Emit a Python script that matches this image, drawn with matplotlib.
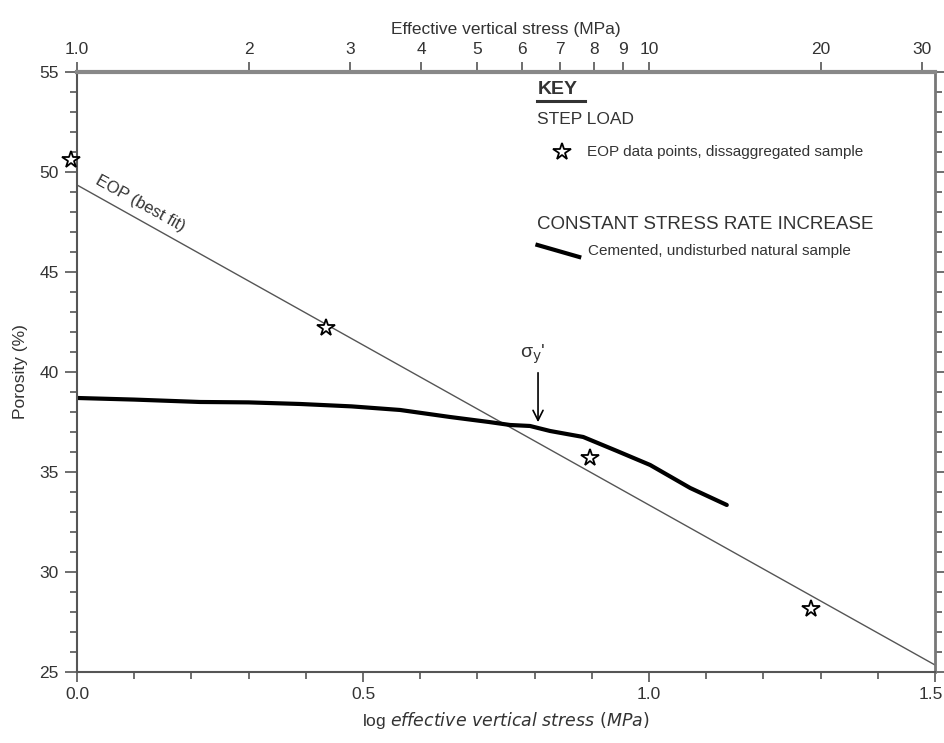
import matplotlib.pyplot as plt
import matplotlib.transforms as mtransforms
import numpy as np

plt.rcParams['font.family'] = ['Liberation Sans', 'DejaVu Sans']

# data
eop_x = [-0.01, 0.435, 0.897, 1.283]
eop_y = [50.6, 42.2, 35.7, 28.15]
fit_x = [0.0, 1.5]
fit_y = [49.35, 25.35]
csr_x = [0.0, 0.1, 0.215, 0.3, 0.39, 0.48, 0.565, 0.652, 0.72, 0.757, 0.792,
         0.827, 0.885, 0.944, 1.002, 1.072, 1.136]
csr_y = [38.7, 38.62, 38.5, 38.48, 38.4, 38.28, 38.1, 37.75, 37.5, 37.35, 37.3,
         37.05, 36.75, 36.05, 35.35, 34.2, 33.35]
sigma_x = 0.806
top_ticks = [1, 2, 3, 4, 5, 6, 7, 8, 9, 10, 20, 30]
top_labels = ['1.0', '2', '3', '4', '5', '6', '7', '8', '9', '10', '20', '30']

txt = '#333333'
fig = plt.figure(figsize=(9.45, 7.43), dpi=100)
ax = fig.add_axes([0.0815, 0.0956, 0.9079, 0.8075])

ax.plot(fit_x, fit_y, color='#555555', lw=1.0)
ax.plot(csr_x, csr_y, color='black', lw=3.0, solid_capstyle='round',
        solid_joinstyle='round')
ax.plot(eop_x, eop_y, ls='none', marker='*', ms=13, mfc='white',
        mec='black', mew=1.3, clip_on=False, zorder=5)

ax.annotate('', xy=(sigma_x, 37.35), xytext=(sigma_x, 40.1),
            arrowprops=dict(arrowstyle='->', color='black', lw=1.2,
                            mutation_scale=18))
ax.text(sigma_x - 0.01, 40.9, "σ$_\\mathrm{y}$'", ha='center', va='center',
        fontsize=14, color=txt)
ax.text(0.11, 48.4, 'EOP (best fit)', rotation=-29, ha='center', va='center',
        fontsize=12, color=txt, rotation_mode='anchor')

# key
ax.text(0.805, 54.1, 'KEY', fontsize=14, fontweight='bold', color=txt,
        ha='left', va='center')
ax.plot([0.805, 0.888], [53.55, 53.55], color=txt, lw=2.2, clip_on=False)
ax.text(0.805, 52.6, 'STEP LOAD', fontsize=12.5, color=txt, va='center')
ax.plot([0.848], [51.0], marker='*', ms=13, mfc='white', mec='black', mew=1.3)
ax.text(0.892, 51.0, 'EOP data points, dissaggregated sample', fontsize=11,
        color=txt, va='center')
ax.text(0.805, 47.35, 'CONSTANT STRESS RATE INCREASE', fontsize=13.5,
        color=txt, va='center')
ax.plot([0.805, 0.878], [46.35, 45.75], color='black', lw=3)
ax.text(0.893, 46.05, 'Cemented, undisturbed natural sample', fontsize=11,
        color=txt, va='center')

ax.set_xlim(0, 1.5)
ax.set_ylim(25, 55)
ax.set_xticks([0, 0.5, 1.0, 1.5])
ax.set_xticklabels(['0.0', '0.5', '1.0', '1.5'])
ax.set_xticks(np.arange(0, 1.51, 0.1), minor=True)
ax.set_yticks([25, 30, 35, 40, 45, 50, 55])
ax.set_yticks(np.arange(25, 56, 1), minor=True)
ax.tick_params(axis='both', which='major', length=7, width=1.2, colors='#555555',
               labelcolor=txt, labelsize=12.5)
ax.tick_params(axis='both', which='minor', length=5, width=1.2, colors='#555555')
ax.tick_params(axis='y', which='both', right=True)
ax.tick_params(axis='y', which='major', length=9, pad=4)
for s in ['left', 'bottom']:
    ax.spines[s].set_color('#555555')
    ax.spines[s].set_linewidth(1.5)
ax.spines['right'].set_color('#777777')
ax.spines['right'].set_linewidth(2.0)
ax.spines['top'].set_color('#888888')
ax.spines['top'].set_linewidth(3.0)

# keep the last bottom label inside the figure
last = ax.get_xticklabels()[-1]
last.set_ha('right')
last.set_transform(last.get_transform() +
                   mtransforms.ScaledTranslation(8 / 100, 0, fig.dpi_scale_trans))

ax.set_ylabel('Porosity (%)', fontsize=12.5, color=txt, labelpad=8)
ax.set_xlabel(r'log $\it{effective\ vertical\ stress\ (MPa)}$', fontsize=12.5,
              color=txt, labelpad=6)

sec = ax.secondary_xaxis('top', functions=(lambda x: 10 ** x, np.log10))
sec.set_xticks(top_ticks)
sec.set_xticklabels(top_labels)
sec.xaxis.set_minor_locator(plt.NullLocator())
sec.tick_params(length=7, width=1.2, colors='#555555', labelcolor=txt,
                labelsize=12.5)
sec.spines['top'].set_visible(False)
sec.set_xlabel('Effective vertical stress (MPa)', fontsize=12.5, color=txt,
               labelpad=6)

fig.savefig('out.png', dpi=100)
